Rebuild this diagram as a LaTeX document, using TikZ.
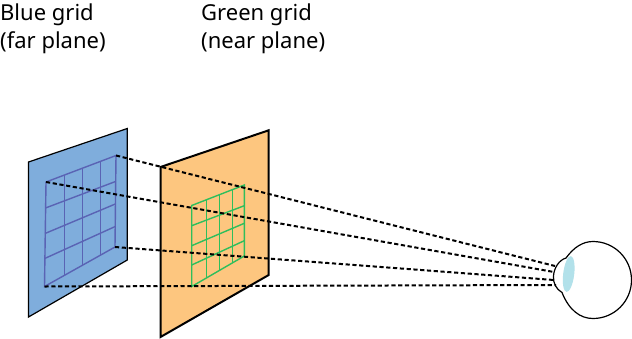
\documentclass[tikz,border=0pt]{standalone}
\usepackage{fontspec}
\setmainfont{Noto Sans}
\usetikzlibrary{calc,shapes.geometric}
\definecolor{farfill}{HTML}{7FADDC}
\definecolor{nearfill}{HTML}{FDC67F}
\definecolor{fargrid}{HTML}{5A63B4}
\definecolor{neargrid}{HTML}{2FBE5C}
\definecolor{lens}{HTML}{B2E1EA}
\tikzset{
  px/.style={x=1pt,y=-1pt},
  caption/.style={anchor=north west,align=left,inner sep=0pt,font=\fontsize{22}{28}\selectfont},
  farplane/.style={draw=black,fill=farfill,line width=1.2pt,line join=miter},
  nearplane/.style={draw=black,fill=nearfill,line width=2pt,line join=miter},
  fargridline/.style={draw=fargrid,line width=1.4pt},
  neargridline/.style={draw=neargrid,line width=1.4pt},
  sightline/.style={draw=black,line width=2pt,dash pattern=on 4.2pt off 2.6pt},
}
\begin{document}
\begin{tikzpicture}[px]
\useasboundingbox (0,0) rectangle (632,338);

% Captions
\node[caption] (bluecap) at (0,3.5) {Blue grid\\(far plane)};
\node[caption] (greencap) at (201,3.5) {Green grid\\(near plane)};

% Far plane and its grid
\draw[farplane] (28.5,162) -- (127.3,128.5) -- (127.3,260) -- (28.5,317) -- cycle;
\coordinate (fa) at (46,182);
\coordinate (fb) at (116,155.5);
\coordinate (fc) at (115,247);
\coordinate (fd) at (44.5,286.5);
\draw[fargridline] (fa) -- (fb) -- (fc) -- (fd) -- cycle;
\draw[fargridline] (64.5,175) -- (64.5,275);
\draw[fargridline] (82.7,168.5) -- (82.7,265);
\draw[fargridline] (100.5,161.5) -- (100.5,255);
\draw[fargridline] (45.5,208) -- (115.5,181.5);
\draw[fargridline] (45,233.5) -- (115.3,204);
\draw[fargridline] (44.7,258.5) -- (115.2,226.5);

% Near plane and its grid
\draw[nearplane] (160.5,167) -- (268.7,130.3) -- (268.7,275) -- (160.5,337) -- cycle;
\coordinate (na) at (191.7,205.5);
\coordinate (nb) at (244.3,185);
\coordinate (nc) at (244.3,256);
\coordinate (nd) at (191.7,286.5);
\draw[neargridline] (na) -- (nb) -- (nc) -- (nd) -- cycle;
\draw[neargridline] (206.3,200) -- (206.3,278);
\draw[neargridline] (219.3,195) -- (219.3,270.5);
\draw[neargridline] (232.7,190) -- (232.7,263);
\draw[neargridline] (191.7,225.7) -- (244.3,205.7);
\draw[neargridline] (191.7,245.7) -- (244.3,223.3);
\draw[neargridline] (191.7,265) -- (244.3,240.7);

% Eye: globe with a corneal bulge, and the lens inside it
\draw[black,line width=1.2pt,fill=white]
  (566,258) .. controls (574,247) and (583,241.5) .. (593,241.5)
  arc[start angle=-90,end angle=90,radius=38.5]
  .. controls (580,318.5) and (569,310) .. (562,292.5)
  .. controls (556,289) and (553,283) .. (553.5,276)
  .. controls (554,268) and (559,260) .. (566,258) -- cycle;
\node[fill=lens,ellipse,minimum width=11pt,minimum height=36pt,inner sep=0pt,rotate=-7] (lensbody) at (568.7,274) {};

% Lines of sight from the far grid corners to the eye
\coordinate (e1) at (555,266);
\coordinate (e2) at (554,272);
\coordinate (e3) at (554,280);
\coordinate (e4) at (556,285);
\draw[sightline] (fb) -- (e1);
\draw[sightline] (fa) -- (e2);
\draw[sightline] (fc) -- (e3);
\draw[sightline] (fd) -- (e4);
\end{tikzpicture}
\end{document}
